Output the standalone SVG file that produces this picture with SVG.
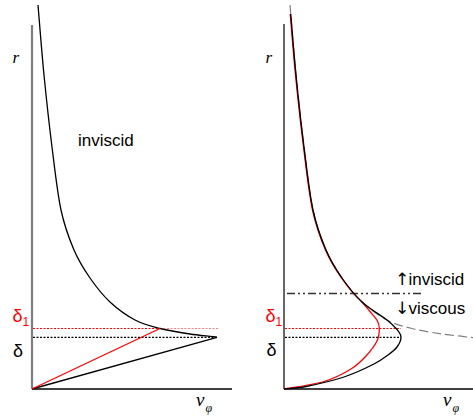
<svg xmlns="http://www.w3.org/2000/svg" width="473" height="416" viewBox="0 0 473 416">
<defs>
<style>
.ax{stroke:#000;stroke-width:1.3;fill:none}
.axg{stroke:#7f7f7f;stroke-width:2.2;fill:none}
.crv{stroke:#000;stroke-width:1.3;fill:none}
.red{stroke:#ff0000;stroke-width:1.3;fill:none}
.dotr{stroke:#ff0000;stroke-width:1.2;stroke-dasharray:2,1.5;fill:none}
.dotk{stroke:#000;stroke-width:1.2;stroke-dasharray:2,1.5;fill:none}
.lbl{font-family:"Liberation Sans",Arial,sans-serif;font-size:17px;fill:#000}
.arr{font-family:"DejaVu Sans",sans-serif;font-size:17px;fill:#000}
.dl{font-family:"Liberation Sans",Arial,sans-serif;font-size:18px}
.it{font-family:"Liberation Serif","Times New Roman",serif;font-style:italic;fill:#000}
</style>
<clipPath id="topclip"><rect x="270" y="14" width="203" height="402"/></clipPath>
</defs>

<g id="left-panel">
  <g id="left-axes">
    <line class="axg" x1="32" y1="25" x2="32" y2="389"/>
    <line class="ax" x1="32" y1="389" x2="232" y2="389"/>
    <text class="it" x="12.5" y="63" font-size="17">r</text>
    <text class="it" x="196" y="406" font-size="19">v<tspan font-size="12" dx="1" dy="6">φ</tspan></text>
  </g>
  <g id="left-levels">
    <line class="dotr" x1="33" y1="328.5" x2="160" y2="328.5"/>
    <line class="dotr" x1="160" y1="328.5" x2="218" y2="328.5" stroke-opacity="0.5"/>
    <line class="dotk" x1="33" y1="337.3" x2="217" y2="337.3"/>
    <text class="dl" x="12.5" y="321.5" fill="#ff0000">δ<tspan font-size="12" dy="4.5">1</tspan></text>
    <text class="dl" x="13" y="356.5" fill="#000">δ</text>
  </g>
  <g id="left-curves">
    <path class="crv" d="M38,5 C39,16.7 41.67,51.33 44,75 C46.33,98.67 49.17,124.5 52,147 C54.83,169.5 57.33,192.83 61,210 C64.67,227.17 69.17,238.67 74,250 C78.83,261.33 84,269.33 90,278 C96,286.67 102.5,295 110,302 C117.5,309 126.67,315.58 135,320 C143.33,324.42 150.83,326.17 160,328.5 C169.17,330.83 180.5,332.58 190,334 C199.5,335.42 212.5,336.5 217,337.3"/>
    <line class="crv" x1="32" y1="389" x2="217" y2="337.3"/>
    <line class="red" x1="32" y1="389" x2="160" y2="328.5"/>
  </g>
  <text class="lbl" x="78" y="145.5">inviscid</text>
</g>

<g id="right-panel">
  <g id="right-axes">
    <line stroke="#404040" stroke-width="1.6" x1="284" y1="24" x2="284" y2="389"/>
    <line class="ax" x1="284" y1="389" x2="473" y2="389"/>
    <text class="it" x="265.5" y="63" font-size="17">r</text>
    <text class="it" x="443" y="406" font-size="19">v<tspan font-size="12" dx="1" dy="6">φ</tspan></text>
  </g>
  <g id="right-levels">
    <line class="dotr" x1="285" y1="328.5" x2="401" y2="328.5"/>
    <line class="dotk" x1="285" y1="337.3" x2="401" y2="337.3"/>
    <line stroke="#333" stroke-width="1.5" stroke-dasharray="8,3,2,3,2,3" x1="287" y1="293.5" x2="423" y2="293.5"/>
    <text class="dl" x="265.5" y="321.5" fill="#ff0000">δ<tspan font-size="12" dy="4.5">1</tspan></text>
    <text class="dl" x="266.5" y="356" fill="#000">δ</text>
    <text class="lbl" y="284.5"><tspan class="arr" x="395">↑</tspan><tspan x="408.5">inviscid</tspan></text>
    <text class="lbl" y="314"><tspan class="arr" x="395">↓</tspan><tspan x="408.5">viscous</tspan></text>
  </g>
  <g id="right-curves">
    <path stroke="#808080" stroke-width="1.2" stroke-dasharray="9,4" fill="none" d="M290,5 C291,16.7 293.67,51.33 296,75 C298.33,98.67 301.17,124.5 304,147 C306.83,169.5 309.33,192.83 313,210 C316.67,227.17 321.17,238.67 326,250 C330.83,261.33 336,269.33 342,278 C348,286.67 354.5,295 362,302 C369.5,309 378.67,315.58 387,320 C395.33,324.42 402.83,326.17 412,328.5 C421.17,330.83 432.5,332.58 442,334 C451.5,335.42 464.5,336.5 469,337.3 L480,338"/>
    <g clip-path="url(#topclip)">
      <path class="red" d="M289.5,5 C290.5,16.7 293.17,51.33 295.5,75 C297.83,98.67 300.67,124.5 303.5,147 C306.33,169.5 308.83,192.83 312.5,210 C316.17,227.17 320.67,238.67 325.5,250 C330.33,261.33 335.5,269.33 341.5,278 C347.5,286.67 354.1,295 362,302 C366.67,307.58 367.42,308.33 370,311.5 C372.58,314.67 375.95,318.08 377.5,321 C379.05,323.92 379.38,325.67 379.3,329 C379.22,332.33 379.22,336.5 377,341 C374.78,345.5 370.33,351.33 366,356 C361.67,360.67 358,364.75 351,369 C344,373.25 335.17,378.17 324,381.5 C312.83,384.83 290.67,387.75 284,389"/>
      <path class="crv" d="M290,5 C291,16.7 293.67,51.33 296,75 C298.33,98.67 301.17,124.5 304,147 C306.83,169.5 309.33,192.83 313,210 C316.67,227.17 321.17,238.67 326,250 C330.83,261.33 336,269.33 342,278 C348,286.67 354.5,295 362,302 C369.5,309 381.17,315.42 387,320 C392.83,324.58 394.67,326.62 397,329.5 C399.33,332.38 401,334.38 401,337.3 C401,340.22 399.17,344.05 397,347 C394.83,349.95 391.83,352.17 388,355 C384.17,357.83 381.33,360.33 374,364 C366.67,367.67 355.33,373.25 344,377 C332.67,380.75 316,384.5 306,386.5 C296,388.5 287.67,388.58 284,389"/>
    </g>
  </g>
</g>
</svg>
